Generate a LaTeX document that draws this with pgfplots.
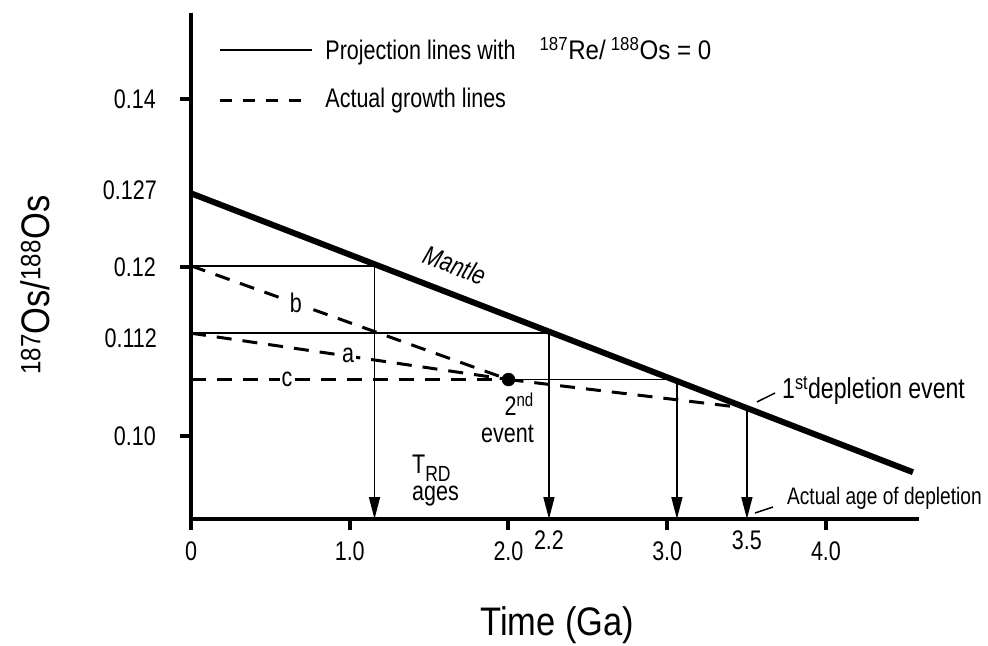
\documentclass[border=0pt]{standalone}
\usepackage{fontspec}
\setmainfont{Liberation Sans}[FakeStretch=0.8]
\usepackage{graphicx}
\usepackage{pgfplots}
\pgfplotsset{compat=1.18}
\usetikzlibrary{arrows.meta}

\begin{document}
\fontsize{27}{30}\selectfont
\begin{tikzpicture}
\begin{axis}[
    name=ax,
    scale only axis, width=728bp, height=506bp,
    xmin=0, xmax=4.586, ymin=0.09015, ymax=0.1502,
    clip=false,
    axis line style={draw=none},
    xtick pos=left, ytick pos=left, tick align=outside,
    major tick length=11bp,
    tick style={line width=4bp, black},
    xtick={0,1,2,3,4}, xticklabels={0,1.0,2.0,3.0,4.0},
    xticklabel style={yshift=-3bp},
    ytick={0.10,0.12,0.14}, yticklabels={0.10,0.12,0.14},
    yticklabel style={xshift=-15bp},
    extra x ticks={2.255,3.502}, extra x tick labels={2.2,3.5},
    extra x tick style={major tick length=0pt, xticklabel style={yshift=0bp}},
    extra y ticks={0.1292,0.1116}, extra y tick labels={0.127,0.112},
    extra y tick style={major tick length=0pt, yticklabel style={xshift=-10bp}},
    xlabel={\fontsize{40}{44}\selectfont\scalebox{1.08}[1]{Time (Ga)}},
    xlabel style={at={(axis description cs:0.503,-0.209)}, anchor=center},
    ylabel={\fontsize{40}{44}\selectfont\scalebox{1.08}[1]{\textsuperscript{187}Os/\textsuperscript{188}Os}},
    ylabel style={at={(axis description cs:-0.214,0.462)}, anchor=center},
    legend cell align=left,
    legend style={at={(axis cs:0.170,0.14736)}, anchor=north west, draw=none, fill=none,
        inner sep=0pt, row sep=25bp, column sep=13bp, nodes={inner sep=0pt}},
]
\addlegendimage{legend image code/.code={\draw[black, line width=1.5bp] (0bp,0bp) -- (92bp,0bp);}}
\addlegendentry{Projection lines with\hspace{24bp}\scalebox{1.12}[1]{\textsuperscript{187}Re/\,\textsuperscript{188}Os = 0}}
\addlegendimage{legend image code/.code={\draw[black, line width=3bp, dash pattern=on 12bp off 11bp] (0bp,0bp) -- (81bp,0bp);}}
\addlegendentry{Actual growth lines}

% mantle evolution
\addplot[black, line width=6bp, forget plot] coordinates {(0,0.1288) (4.548,0.0957)};

% projection lines, 187Re/188Os = 0, down to the T_RD ages
\addplot[black, line width=1.5bp, -{Triangle[length=22bp,width=11bp]}, forget plot]
    coordinates {(0,0.1202) (1.156,0.1202) (1.156,0.09015)};
\addplot[black, line width=1.5bp, -{Triangle[length=22bp,width=11bp]}, forget plot]
    coordinates {(0,0.1122) (2.255,0.1122) (2.255,0.09015)};
\addplot[black, line width=1.5bp, -{Triangle[length=22bp,width=11bp]}, forget plot]
    coordinates {(2.0,0.1067) (3.061,0.1067) (3.061,0.09015)};
\addplot[black, line width=1.5bp, -{Triangle[length=22bp,width=11bp]}, forget plot]
    coordinates {(3.502,0.1033) (3.502,0.09015)};

% actual growth lines
\addplot[black, line width=3bp, dash pattern=on 15bp off 11bp, forget plot]
    coordinates {(0,0.1202) (2.0,0.1067)};
\addplot[black, line width=3bp, dash pattern=on 15bp off 11bp, forget plot]
    coordinates {(0,0.1122) (2.0,0.1067)};
\addplot[black, line width=3bp, dash pattern=on 15bp off 11bp, forget plot]
    coordinates {(0,0.1067) (2.0,0.1067)};
\addplot[black, line width=3bp, dash pattern=on 15bp off 11bp, forget plot]
    coordinates {(2.0,0.1067) (3.502,0.1033)};

% 2nd event
\addplot[black, only marks, mark=*, mark size=6.5bp, forget plot] coordinates {(2.0,0.1067)};

% axes
\draw[black, line width=4bp, miter limit=2] (axis cs:0,0.1502) -- (axis cs:0,0.09015) -- (axis cs:4.586,0.09015);

\node[fill=white, inner sep=2bp] at (axis cs:0.661,0.11579) {b};
\node[fill=white, inner sep=2bp] at (axis cs:0.989,0.10961) {a};
\node[fill=white, inner sep=2bp] at (axis cs:0.605,0.1067) {c};
\node[rotate=-21] at (axis cs:1.663,0.1203) {\itshape Mantle};
\node[anchor=north east, align=right, inner sep=0pt, font=\fontsize{27}{27}\selectfont]
    at (axis cs:2.161,0.10510) {2\textsuperscript{nd}\\event};
\node[anchor=north west, align=left, inner sep=0pt, font=\fontsize{27}{27}\selectfont]
    at (axis cs:1.392,0.09774) {T\raisebox{-0.3em}{\fontsize{22}{22}\selectfont RD}\\ages};
\node[anchor=west, inner sep=0pt, font=\fontsize{29}{30}\selectfont] at (axis cs:3.723,0.10546) {1\textsuperscript{st}depletion event};
\draw[black, line width=1.5bp] (axis cs:3.565,0.10404) -- (axis cs:3.679,0.1051);
\node[anchor=west, inner sep=0pt, font=\fontsize{24}{26}\selectfont] at (axis cs:3.754,0.09264) {Actual age of depletion};
\draw[black, line width=1.5bp] (axis cs:3.553,0.09086) -- (axis cs:3.666,0.09157);
\end{axis}
\pgfresetboundingbox
\path[use as bounding box] ([shift={(-191bp,-127bp)}]ax.south west) rectangle ([shift={(797bp,519bp)}]ax.south west);
\end{tikzpicture}
\end{document}
